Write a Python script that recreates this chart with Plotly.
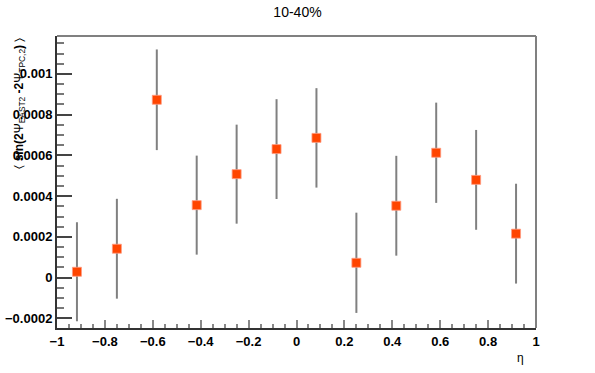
import plotly.graph_objects as go

eta = [-0.9167, -0.75, -0.5833, -0.4167, -0.25, -0.0833, 0.0833, 0.25, 0.4167, 0.5833, 0.75, 0.9167]
val = [0.000029, 0.000142, 0.000873, 0.000356, 0.000508, 0.000631, 0.000686, 0.000073, 0.000353, 0.000613, 0.000480, 0.000216]
err = [0.000243, 0.000245, 0.000247, 0.000243, 0.000243, 0.000245, 0.000244, 0.000246, 0.000245, 0.000246, 0.000245, 0.000245]

ytick_vals = [-0.0002, 0, 0.0002, 0.0004, 0.0006, 0.0008, 0.001]
ytick_text = ["\u22120.0002", "0", "0.0002", "0.0004", "0.0006", "0.0008", "0.001"]
xtick_vals = [-1, -0.8, -0.6, -0.4, -0.2, 0, 0.2, 0.4, 0.6, 0.8, 1]
xtick_text = ["\u22121", "\u22120.8", "\u22120.6", "\u22120.4", "\u22120.2", "0", "0.2", "0.4", "0.6", "0.8", "1"]

title = "10-40%"
xtitle = "\u03b7"
ytitle = "\u2329 <b>sin(2</b>\u03a8<sub>EAST2</sub> <b>-2</b>\u03a8<sub>TPC,2</sub><b>)</b> \u232a"

font = "Liberation Sans, Arial, sans-serif"

fig = go.Figure()
fig.add_trace(go.Scatter(
    x=eta, y=val, mode="markers",
    marker=dict(symbol="square", size=9, color="#FF4500",
                line=dict(color="#FF9A80", width=0.8)),
    error_y=dict(type="data", array=err, visible=True, color="#808080",
                 thickness=2, width=0),
    showlegend=False,
))

fig.update_layout(
    width=595, height=373,
    margin=dict(l=57, r=59, t=36, b=45),
    paper_bgcolor="white", plot_bgcolor="white",
    font=dict(family=font, color="black"),
    hovermode=False,
    title=dict(text=title, x=0.5, xanchor="center", y=0.968, yanchor="middle",
               automargin=False,
               font=dict(family=font, size=14, color="black")),
    xaxis=dict(range=[-1, 1], showgrid=False, zeroline=False, automargin=False,
               showline=True, linecolor="#333333", linewidth=2,
               tickmode="array", tickvals=xtick_vals, ticktext=xtick_text,
               ticks="inside", ticklen=8, tickwidth=2, tickcolor="#888888",
               minor=dict(dtick=0.05, ticks="inside", ticklen=4, tickwidth=2,
                          tickcolor="#888888", showgrid=False),
               tickfont=dict(family=font, size=13, weight="bold", color="black")),
    yaxis=dict(range=[-0.000247, 0.001186], showgrid=False, zeroline=False, automargin=False,
               showline=True, linecolor="#333333", linewidth=2,
               tickmode="array", tickvals=ytick_vals, ticktext=ytick_text,
               ticks="inside", ticklen=15, tickwidth=2, tickcolor="#444444",
               minor=dict(dtick=0.00005, ticks="inside", ticklen=7, tickwidth=2,
                          tickcolor="#777777", showgrid=False),
               tickfont=dict(family=font, size=13, weight="bold", color="black")),
)

# gray top and right frame
fig.add_shape(type="line", xref="paper", yref="paper", x0=0, x1=1, y0=1, y1=1,
              line=dict(color="#808080", width=2))
fig.add_shape(type="line", xref="paper", yref="paper", x0=1, x1=1, y0=0, y1=1,
              line=dict(color="#808080", width=2))

fig.add_annotation(text=xtitle, xref="paper", yref="paper", x=0.967, y=-0.103,
                   xanchor="center", yanchor="middle", showarrow=False,
                   font=dict(family=font, size=12, color="#000000"))
fig.add_annotation(text=ytitle, xref="paper", yref="paper", x=-0.079, y=1.0,
                   xanchor="center", yanchor="top", textangle=-90, showarrow=False,
                   font=dict(family=font, size=12, color="black"))

# remove the default page margin so the figure sits at the window's top-left
fig.write_html("out.html", config={"displayModeBar": False},
               post_script="document.body.style.margin='0';document.body.style.overflow='hidden';")
